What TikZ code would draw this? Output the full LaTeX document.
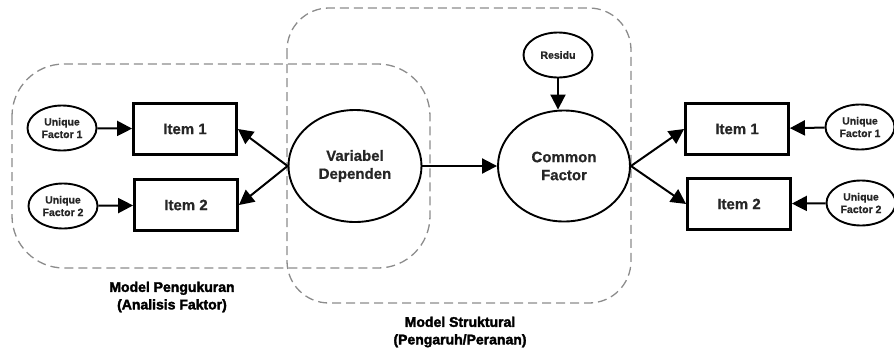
\documentclass[tikz,border=0pt]{standalone}
\usepackage{fontspec}
\setmainfont{Liberation Sans}
\newfontfamily\nodefont[FakeBold=0.8]{Liberation Sans Bold}
\newfontfamily\heavyfont[FakeBold=2.2]{Liberation Sans Bold}
\usetikzlibrary{shapes.geometric,arrows.meta}
\definecolor{txt}{HTML}{262626}
\definecolor{dashgray}{HTML}{8C8C8C}
\tikzset{
  oval/.style={ellipse, draw=black, line width=1.9pt, inner sep=0pt, text=txt, align=center},
  smalloval/.style={oval, minimum width=69pt, minimum height=45pt, font=\nodefont\fontsize{10.5}{12.5}\selectfont},
  bigoval/.style={oval, minimum width=132pt, minimum height=111pt, font=\nodefont\fontsize{15}{18}\selectfont},
  itembox/.style={rectangle, draw=black, line width=2.8pt, minimum width=103pt, minimum height=51pt, inner sep=0pt, text=txt, font=\nodefont\fontsize{15}{18}\selectfont},
  arr/.style={line width=2pt, -{Triangle[length=15pt,width=15pt]}},
  region/.style={draw=dashgray, line width=1.3pt, dash pattern=on 9pt off 5pt},
  caption/.style={align=center, text=black, font=\heavyfont\fontsize{14}{17.5}\selectfont, inner sep=0pt}
}
\begin{document}
\begin{tikzpicture}[x=1pt,y=-1pt]
\useasboundingbox (0,0) rectangle (894,349);
% dashed regions
\draw[region, rounded corners=52pt] (12,64) rectangle (430,268);
\draw[region, rounded corners=42pt] (287,8) rectangle (631,303);
% nodes
\node[smalloval] (ufL1) at (62,128) {Unique\\Factor 1};
\node[smalloval] (ufL2) at (63,206) {Unique\\Factor 2};
\node[itembox] (itL1) at (185,129) {Item 1};
\node[itembox] (itL2) at (186,205) {Item 2};
\node[bigoval, minimum width=133pt, minimum height=112pt] (vd) at (355,166) {Variabel\\Dependen};
\node[bigoval] (cf) at (564,166) {Common\\Factor};
\node[smalloval] (res) at (558,55) {Residu};
\node[itembox] (itR1) at (737,129) {Item 1};
\node[itembox] (itR2) at (739,204) {Item 2};
\node[smalloval] (ufR1) at (860,127) {Unique\\Factor 1};
\node[smalloval] (ufR2) at (861,203) {Unique\\Factor 2};
% captions
\node[caption] (capL) at (172,297) {Model Pengukuran\\(Analisis Faktor)};
\node[caption] (capR) at (460,332) {Model Struktural\\(Pengaruh/Peranan)};
% connectors
\draw[arr] (ufL1) -- (itL1);
\draw[arr] (ufL2) -- (itL2);
\draw[arr] (vd.west) -- (itL1.east);
\draw[arr] (vd.west) -- (itL2.east);
\draw[arr] (vd.east) -- (cf.west);
\draw[arr] (res.south) -- (res.south |- cf.north);
\draw[arr] (cf.east) -- (itR1.west);
\draw[arr] (cf.east) -- (itR2.west);
\draw[arr] (ufR1) -- (itR1);
\draw[arr] (ufR2) -- (itR2);
\end{tikzpicture}
\end{document}
